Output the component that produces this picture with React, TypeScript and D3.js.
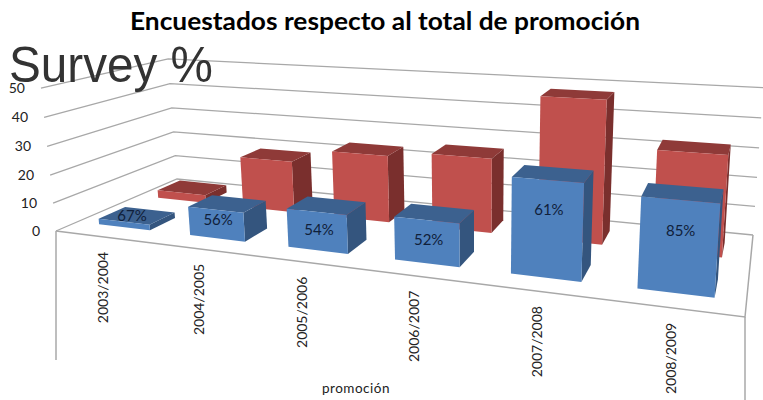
import React from 'react';
import * as d3 from 'd3';

const categories = ['2003/2004', '2004/2005', '2005/2006', '2006/2007', '2007/2008', '2008/2009'];
const redValues = [3, 19, 24, 26, 48, 33];
const blueValues = [2, 10, 13, 14, 30, 27.5];
const percentLabels = ['67%', '56%', '54%', '52%', '61%', '85%'];
const valueTicks = [0, 10, 20, 30, 40, 50];
const series = ['blue', 'red'];

type P = [number, number];
// floor corners: front-left, front-right, back-right, back-left
const floorQuad: P[] = [[56, 231], [745, 317], [753, 235], [177, 179]];
const verticalVanish: P = [475, 4220];
const heightFactor = 0.0346;

function homography(q: P[]) {
  const [[x0, y0], [x1, y1], [x2, y2], [x3, y3]] = q;
  const dx1 = x1 - x2, dx2 = x3 - x2, sx = x0 - x1 + x2 - x3;
  const dy1 = y1 - y2, dy2 = y3 - y2, sy = y0 - y1 + y2 - y3;
  const den = dx1 * dy2 - dx2 * dy1;
  const g = (sx * dy2 - dx2 * sy) / den;
  const h = (dx1 * sy - sx * dy1) / den;
  const a = x1 - x0 + g * x1, b = x3 - x0 + h * x3;
  const d = y1 - y0 + g * y1, e = y3 - y0 + h * y3;
  return (u: number, v: number) => {
    const w = g * u + h * v + 1;
    return { x: (a * u + b * v + x0) / w, y: (d * u + e * v + y0) / w, w };
  };
}
const floorH = homography(floorQuad);
const valueT = d3.scaleLinear().domain([0, 50]).range([0, heightFactor]);
const proj = (u: number, d: number, val: number): P => {
  const f = floorH(u, d);
  const t = valueT(val);
  const s = t / (f.w - t);
  return [f.x + (f.x - verticalVanish[0]) * s, f.y + (f.y - verticalVanish[1]) * s];
};

const catScale = d3.scaleBand<string>().domain(categories).range([0, 1]).paddingInner(0.432).paddingOuter(0.236).align(0.52);
const depthScale = d3.scaleBand<string>().domain(series).range([0, 1]).paddingInner(0.574).paddingOuter(0.32);
const labelLift = d3.scaleLinear().domain([13, 30]).range([0.53, 0.7]).clamp(true);

const poly = (pts: P[]) => (d3.line()(pts) as string) + 'Z';
const colors: Record<string, { front: string; top: string; side: string }> = {
  red: { front: '#C0504D', top: '#8F3A38', side: '#7A2F2D' },
  blue: { front: '#4F81BD', top: '#3C618F', side: '#34557E' },
};
const axisColor = '#A8A8A8';
const textFont = 'Lato, sans-serif';

function Bar({ cat, s, val }: { cat: string; s: string; val: number }) {
  const u0 = catScale(cat)!, u1 = u0 + catScale.bandwidth();
  const d0 = depthScale(s)!, d1 = d0 + depthScale.bandwidth();
  const c = colors[s];
  return (
    <g>
      <path d={poly([proj(u1, d0, 0), proj(u1, d1, 0), proj(u1, d1, val), proj(u1, d0, val)])} fill={c.side} />
      <path d={poly([proj(u0, d0, val), proj(u1, d0, val), proj(u1, d1, val), proj(u0, d1, val)])} fill={c.top} />
      <path d={poly([proj(u0, d0, 0), proj(u1, d0, 0), proj(u1, d0, val), proj(u0, d0, val)])} fill={c.front} />
    </g>
  );
}

export default function App() {
  const floorFront = (cat: string) => proj(catScale(cat)! + catScale.bandwidth() / 2, 0, 0);
  return (
    <svg width={763} height={400} style={{ position: 'absolute', left: 0, top: 0, background: '#fff' }}>
      {valueTicks.map(t => (
        <path key={t} d={d3.line()([proj(0, 0, t), proj(0, 1, t), proj(1, 1, t)]) as string}
          fill="none" stroke={axisColor} strokeWidth={1.3} />
      ))}
      <path d={d3.line()([proj(0, 0, 0), proj(1, 0, 0), proj(1, 1, 0)]) as string} fill="none" stroke={axisColor} strokeWidth={1.5} />
      <line x1={proj(0, 0, 0)[0]} y1={proj(0, 0, 0)[1]} x2={proj(0, 0, 0)[0]} y2={360} stroke={axisColor} strokeWidth={1.5} />
      <line x1={proj(1, 0, 0)[0]} y1={proj(1, 0, 0)[1]} x2={proj(1, 0, 0)[0]} y2={400} stroke={axisColor} strokeWidth={1.5} />

      {categories.map((c, i) => <Bar key={c} cat={c} s="red" val={redValues[i]} />)}
      {categories.map((c, i) => <Bar key={c} cat={c} s="blue" val={blueValues[i]} />)}

      {valueTicks.map(t => {
        const p = proj(0, 0, t);
        return (
          <text key={t} x={p[0] - 16} y={p[1] + 5} textAnchor="end" fontFamily={textFont} fontSize={14} fill="#222">{t}</text>
        );
      })}
      {categories.map((c, i) => {
        const val = blueValues[i];
        const u = catScale(c)! + catScale.bandwidth() / 2;
        const flat = val < 5;
        const d = depthScale('blue')! + (flat ? depthScale.bandwidth() * 0.5 : 0);
        const p = proj(u, d, flat ? val : val * labelLift(val) + (val < 12 ? 1 : 0));
        return (
          <text key={c} x={p[0] + (flat ? -5 : 2)} y={p[1] + 5} textAnchor="middle" fontFamily={textFont} fontSize={15} fill="#10203a">{percentLabels[i]}</text>
        );
      })}
      {categories.map(c => {
        const p = floorFront(c);
        return (
          <text key={c} transform={`translate(${p[0] + 5},${p[1] + 15}) rotate(-90)`} textAnchor="end"
            fontFamily={textFont} fontSize={14} fill="#222">{c}</text>
        );
      })}
      <text x={322} y={393} fontFamily={textFont} fontSize={13.5} fill="#222" letterSpacing={0.5}>promoción</text>
      <text x={385} y={30} textAnchor="middle" fontFamily={textFont} fontWeight={700} fontSize={24} fill="#000" textLength={510} lengthAdjust="spacingAndGlyphs">Encuestados respecto al total de promoción</text>
      <text x={9} y={82} fontFamily="'Liberation Sans', sans-serif" fontSize={50} fill="#333" textLength={204} lengthAdjust="spacingAndGlyphs">Survey %</text>
    </svg>
  );
}
